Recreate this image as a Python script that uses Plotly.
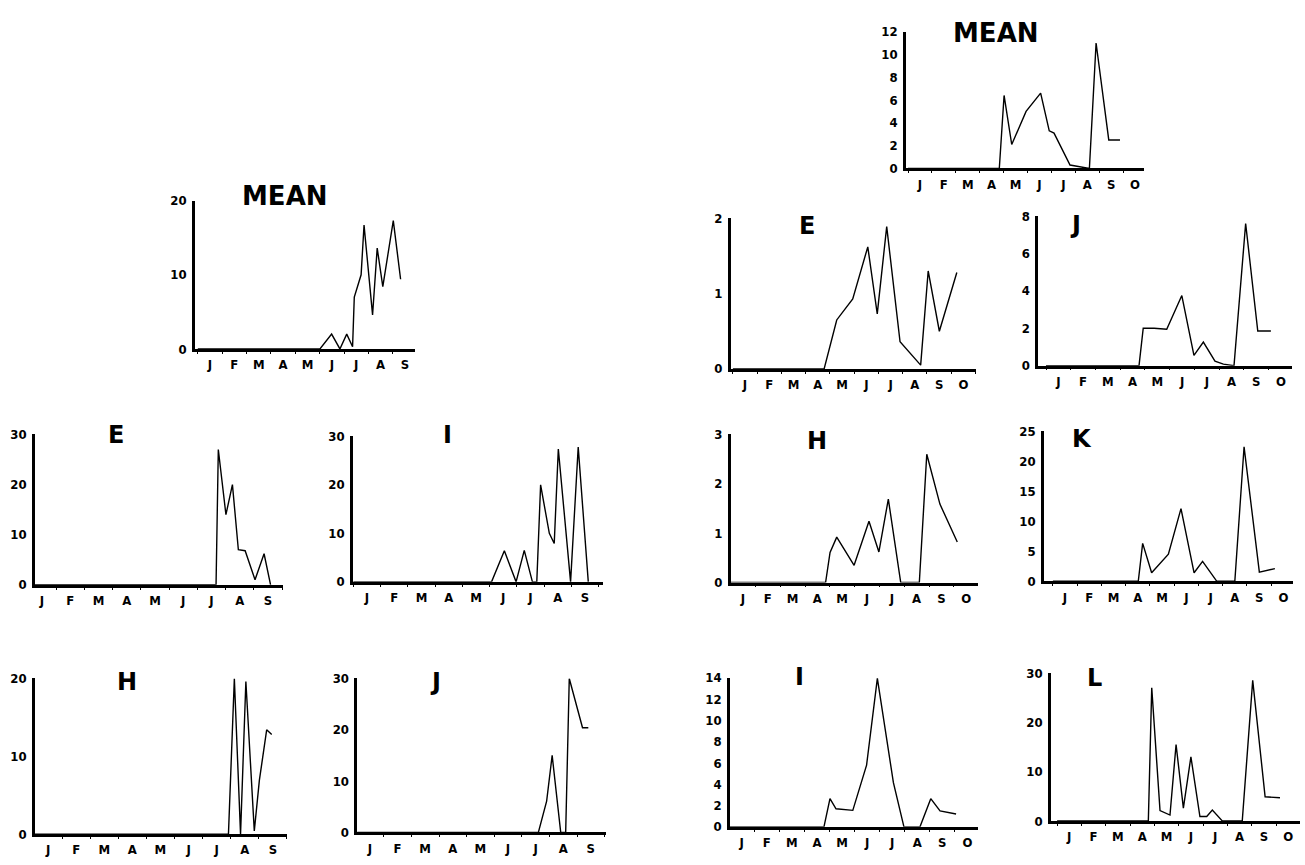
import plotly.graph_objects as go

W, H = 1305, 865

MONTHS_L = ["J", "F", "M", "A", "M", "J", "J", "A", "S"]
MONTHS_R = ["J", "F", "M", "A", "M", "J", "J", "A", "S", "O"]

# ---- data (x in months from 1 Jan, y = value) ----
lmean_x = [0, 5.01, 5.49, 5.83, 6.11, 6.35, 6.42, 6.70, 6.82, 7.17, 7.36, 7.59, 8.02, 8.32]
lmean_y = [0, 0, 2, 0, 2, 0.3, 7, 10, 16.7, 4.6, 13.6, 8.4, 17.3, 9.4]

le_x = [0, 6.66, 6.74, 7.01, 7.24, 7.45, 7.69, 8.04, 8.36, 8.59]
le_y = [0, 0, 27, 14, 20, 7, 6.8, 1, 6.2, 0]

li_x = [0, 5.07, 5.54, 5.97, 6.27, 6.57, 6.73, 6.87, 7.19, 7.37, 7.52, 7.97, 8.25, 8.62]
li_y = [0, 0, 6.4, 0, 6.5, 0, 0, 20, 10, 7.9, 27.4, 0, 27.8, 0]

lh_x = [0, 6.92, 7.13, 7.35, 7.54, 7.84, 8.02, 8.28, 8.46]
lh_y = [0, 0, 20, 0, 19.6, 0.4, 6.9, 13.4, 12.8]

lj_x = [0, 6.6, 6.9, 7.1, 7.41, 7.59, 7.72, 8.2, 8.41]
lj_y = [0, 0, 6.1, 15, 0, 0, 30, 20.4, 20.4]

rmean_x = [0, 3.82, 4.02, 4.34, 4.94, 5.55, 5.91, 6.11, 6.78, 7.59, 7.87, 8.4, 8.87]
rmean_y = [0, 0, 6.4, 2.1, 5, 6.6, 3.3, 3.1, 0.3, 0, 11, 2.5, 2.5]

re_x = [0, 3.76, 4.28, 4.94, 5.56, 5.95, 6.34, 6.89, 7.74, 8.05, 8.51, 9.23]
re_y = [0, 0, 0.65, 0.93, 1.62, 0.73, 1.89, 0.36, 0.05, 1.3, 0.5, 1.28]

rj_x = [0, 3.76, 3.93, 4.37, 4.88, 5.49, 5.98, 6.36, 6.83, 7.17, 7.6, 8.07, 8.56, 9.09]
rj_y = [0, 0, 2.0, 2.0, 1.95, 3.75, 0.55, 1.26, 0.24, 0.08, 0, 7.6, 1.85, 1.85]

rh_x = [0, 3.83, 4.01, 4.28, 4.98, 5.58, 5.98, 6.36, 6.86, 7.61, 7.91, 8.44, 9.14]
rh_y = [0, 0, 0.61, 0.92, 0.35, 1.24, 0.62, 1.69, 0, 0, 2.6, 1.59, 0.82]

rk_x = [0, 3.52, 3.7, 4.07, 4.76, 5.28, 5.82, 6.17, 6.75, 7.5, 7.88, 8.51, 9.15]
rk_y = [0, 0, 6.3, 1.4, 4.5, 12.1, 1.4, 3.3, 0, 0, 22.4, 1.5, 2.1]

ri_x = [0, 3.78, 4.02, 4.26, 4.93, 5.48, 5.91, 6.55, 6.97, 7.61, 8.04, 8.41, 9.05]
ri_y = [0, 0, 2.65, 1.7, 1.55, 5.8, 13.95, 4.15, 0, 0, 2.65, 1.5, 1.2]

rl_x = [0, 3.75, 3.89, 4.23, 4.64, 4.89, 5.19, 5.5, 5.87, 6.15, 6.38, 6.79, 7.61, 8.04, 8.55, 9.16]
rl_y = [0, 0, 27, 2.1, 1.2, 15.5, 2.6, 13, 0.9, 0.9, 2.2, 0, 0, 28.5, 4.9, 4.7]

# ---- panel layout (pixel frame: y-axis px, right end px, month-0 px, px per month, y0 px, ytop px) ----
panels = [
    dict(title="MEAN", x=lmean_x, y=lmean_y, ymax=20, yt=[0, 10, 20], m=MONTHS_L,
         frame=(195, 415, 197.8, 24.375, 348, 197), tpos=(285, 192), ts=26),
    dict(title="E", x=le_x, y=le_y, ymax=30, yt=[0, 10, 20, 30], m=MONTHS_L,
         frame=(35, 283, 27.9, 28.25, 588, 435), tpos=(116, 436), ts=24),
    dict(title="I", x=li_x, y=li_y, ymax=30, yt=[0, 10, 20, 30], m=MONTHS_L,
         frame=(353, 603, 353.4, 27.25, 585, 437), tpos=(448, 436), ts=24),
    dict(title="H", x=lh_x, y=lh_y, ymax=20, yt=[0, 10, 20], m=MONTHS_L,
         frame=(35, 287, 34, 28.1, 841.7, 683.3), tpos=(127, 687), ts=24),
    dict(title="J", x=lj_x, y=lj_y, ymax=30, yt=[0, 10, 20, 30], m=MONTHS_L,
         frame=(357.3, 606, 356.2, 27.6, 840, 683.3), tpos=(436, 687), ts=24),
    dict(title="MEAN", x=rmean_x, y=rmean_y, ymax=12, yt=[0, 2, 4, 6, 8, 10, 12], m=MONTHS_R,
         frame=(906, 1144.3, 908, 23.9, 164.3, 25), tpos=(996, 26), ts=26),
    dict(title="E", x=re_x, y=re_y, ymax=2, yt=[0, 1, 2], m=MONTHS_R,
         frame=(730.7, 976, 732.9, 24.26, 368.3, 215), tpos=(807, 223), ts=24),
    dict(title="J", x=rj_x, y=rj_y, ymax=8, yt=[0, 2, 4, 6, 8], m=MONTHS_R,
         frame=(1038.3, 1291.7, 1046, 24.74, 365, 212.7), tpos=(1075, 222), ts=24),
    dict(title="H", x=rh_x, y=rh_y, ymax=3, yt=[0, 1, 2, 3], m=MONTHS_R,
         frame=(730.7, 977.7, 730.6, 24.8, 585.7, 435), tpos=(817, 442), ts=24),
    dict(title="K", x=rk_x, y=rk_y, ymax=25, yt=[0, 5, 10, 15, 20, 25], m=MONTHS_R,
         frame=(1044, 1292.7, 1052.9, 24.26, 584.3, 431.7), tpos=(1082, 440), ts=24),
    dict(title="I", x=ri_x, y=ri_y, ymax=14, yt=[0, 2, 4, 6, 8, 10, 12, 14], m=MONTHS_R,
         frame=(730, 978.3, 729.2, 25.07, 834.3, 682.7), tpos=(800, 682), ts=24),
    dict(title="L", x=rl_x, y=rl_y, ymax=30, yt=[0, 10, 20, 30], m=MONTHS_R,
         frame=(1051, 1300, 1057.1, 24.33, 828.3, 677.7), tpos=(1094, 683), ts=24),
]

TICKFONT = dict(family="DejaVu Sans Condensed, DejaVu Sans, Liberation Sans Narrow, sans-serif",
                size=13, color="black", weight="bold")
TITLEFONT = "DejaVu Sans, Liberation Sans, sans-serif"

fig = go.Figure()
layout = dict(width=W, height=H, margin=dict(l=0, r=0, t=0, b=0),
              paper_bgcolor="white", plot_bgcolor="white", showlegend=False,
              annotations=[])

for i, p in enumerate(panels, start=1):
    ax, rx, px0, ppm, py0, pyt = p["frame"]
    xn = "x" if i == 1 else f"x{i}"
    yn = "y" if i == 1 else f"y{i}"
    fig.add_trace(go.Scatter(x=p["x"], y=p["y"], mode="lines", xaxis=xn, yaxis=yn,
                             line=dict(color="black", width=1.4), hoverinfo="skip"))
    xkey = "xaxis" if i == 1 else f"xaxis{i}"
    ykey = "yaxis" if i == 1 else f"yaxis{i}"
    layout[xkey] = dict(
        domain=[ax / W, rx / W], anchor=yn,
        range=[(ax - px0) / ppm, (rx - px0) / ppm],
        tickmode="array", tickvals=[k + 0.5 for k in range(len(p["m"]))], ticktext=p["m"],
        ticks="", showgrid=False, zeroline=False,
        showline=True, linecolor="black", linewidth=2.5,
        tickfont=TICKFONT, ticklabelstandoff=2,
        minor=dict(tickmode="linear", tick0=0, dtick=1, ticks="outside",
                   ticklen=2, tickwidth=1.2, tickcolor="black", showgrid=False),
    )
    layout[ykey] = dict(
        domain=[1 - py0 / H, 1 - pyt / H], anchor=xn,
        range=[0, p["ymax"]], tickmode="array", tickvals=p["yt"],
        ticks="", showgrid=False, zeroline=False,
        showline=True, linecolor="black", linewidth=2.5,
        tickfont=TICKFONT, ticklabelstandoff=3,
    )
    tx, ty = p["tpos"]
    layout["annotations"].append(dict(
        text=p["title"], x=tx / W, y=1 - ty / H, xref="paper", yref="paper",
        xanchor="center", yanchor="middle", showarrow=False,
        font=dict(family=TITLEFONT, size=p["ts"], color="black", weight="bold"),
    ))

fig.update_layout(**layout)
fig.write_html("out.html")
